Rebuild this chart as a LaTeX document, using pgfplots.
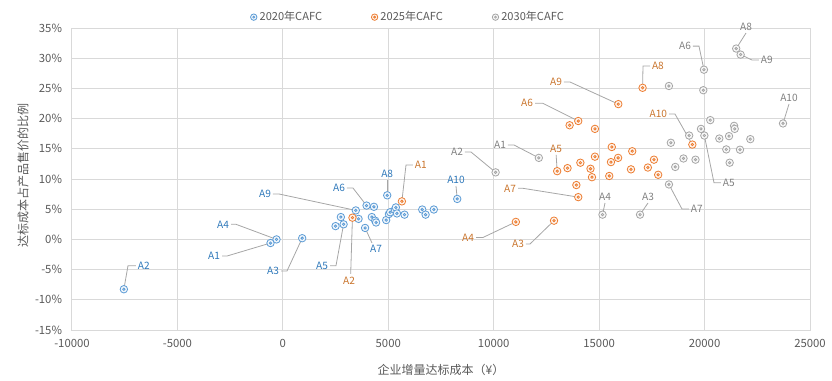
\documentclass[border=0pt]{standalone}
\usepackage{fontspec}
\setmainfont{Noto Sans CJK SC}
\usepackage{pgfplots}
\pgfplotsset{compat=1.18}
\definecolor{cb}{HTML}{5B9BD5}
\definecolor{cbt}{HTML}{2E78BA}
\definecolor{co}{HTML}{ED7D31}
\definecolor{cot}{HTML}{C9742C}
\definecolor{cg}{HTML}{A5A5A5}
\definecolor{cgt}{HTML}{7F7F7F}
\definecolor{gridc}{HTML}{D9D9D9}
\definecolor{tickc}{HTML}{595959}
\definecolor{ldc}{HTML}{A6A6A6}
\pgfdeclareplotmark{rd}{%
  \pgfpathcircle{\pgfpointorigin}{\pgfplotmarksize}\pgfusepathqfillstroke
  \pgfpathcircle{\pgfpointorigin}{0.32\pgfplotmarksize}\pgfusepathqstroke}
\tikzset{ld/.style={ldc, line width=0.6pt},
  lb/.style={font=\fontsize{7.6}{9}\selectfont, inner sep=1.2pt}}
\begin{document}
\begin{tikzpicture}
\begin{axis}[
  at={(0,0)}, anchor=south west,
  scale only axis, width=553.5pt, height=226.5pt,
  xmin=-10000, xmax=25000, ymin=-15, ymax=35,
  xtick={-10000,-5000,...,25000}, ytick={-15,-10,...,35},
  grid=major, major grid style={gridc, line width=0.75pt},
  axis line style={gridc, line width=0.75pt},
  major tick length=0pt,
  clip=false,
  tick label style={font=\fontsize{8.5}{10}\selectfont, text=tickc},
  /pgf/number format/assume math mode=true,
  /pgf/number format/1000 sep={},
  scaled x ticks=false,
  yticklabel={\pgfmathprintnumber{\tick}\%},
  xticklabel style={yshift=-3.5pt},
  yticklabel style={xshift=-4pt},
  xlabel={企业增量达标成本（¥）},
  ylabel={达标成本占产品售价的比例},
  label style={font=\fontsize{9}{11}\selectfont, text=tickc},
  xlabel style={at={(axis description cs:0.5,-0.1325)}, anchor=center},
  ylabel style={at={(axis description cs:-0.0664,0.513)}, anchor=center, rotate=0},
  legend columns=3,
  legend style={draw=none, fill=none, at={(axis description cs:0.456,1.036)}, anchor=center,
    font=\fontsize{8.3}{10}\selectfont, text=tickc,
    /tikz/every even column/.append style={column sep=35pt}},
  legend image post style={mark size=2.4pt},
  legend cell align=left,
]
% ---- leader lines and labels: 2020 (blue)
\draw[ld] (axis cs:-7540,-8.25) -- (axis cs:-7344,-4.35) -- (axis cs:-6965,-4.35) node[lb,anchor=west,text=cbt] {A2};
\draw[ld] (axis cs:-585,-0.6) -- (axis cs:-2649,-2.75) -- (axis cs:-2886,-2.75) node[lb,anchor=east,text=cbt] {A1};
\draw[ld] (axis cs:-300,0) -- (axis cs:-2222,2.5) -- (axis cs:-2459,2.5) node[lb,anchor=east,text=cbt] {A4};
\draw[ld] (axis cs:917,0.2) -- (axis cs:196,-5.23) -- (axis cs:-88,-5.23) node[lb,anchor=east,text=cbt] {A3};
\draw[ld] (axis cs:3460,4.8) -- (axis cs:-183,7.52) -- (axis cs:-468,7.52) node[lb,anchor=east,text=cbt] {A9};
\draw[ld] (axis cs:3970,5.6) -- (axis cs:3326,8.51) -- (axis cs:3042,8.51) node[lb,anchor=east,text=cbt] {A6};
\draw[ld] (axis cs:4950,7.3) -- (axis cs:4950,9.83) node[lb,anchor=south,text=cbt] {A8};
\draw[ld] (axis cs:8270,6.7) -- (axis cs:8211,8.84) node[lb,anchor=south,text=cbt] {A10};
\draw[ld] (axis cs:3900,1.9) -- (axis cs:4228,-0.6);
\node[lb,anchor=north,text=cbt] at (axis cs:4417,-0.7) {A7};
\draw[ld] (axis cs:2880,2.5) -- (axis cs:2520,-4.35) -- (axis cs:2236,-4.35) node[lb,anchor=east,text=cbt] {A5};
% ---- 2025 (orange)
\draw[ld] (axis cs:5645,6.3) -- (axis cs:5840,12.32) -- (axis cs:6172,12.32) node[lb,anchor=west,text=cot] {A1};
\draw[ld] (axis cs:3300,3.6) -- (axis cs:3217,-5.7);
\node[lb,anchor=north,text=cot] at (axis cs:3140,-5.9) {A2};
\draw[ld] (axis cs:12860,3.1) -- (axis cs:11721,-0.76) -- (axis cs:11531,-0.76) node[lb,anchor=east,text=cot] {A3};
\draw[ld] (axis cs:11050,2.9) -- (axis cs:9492,0.32) -- (axis cs:9160,0.32) node[lb,anchor=east,text=cot] {A4};
\draw[ld] (axis cs:13010,11.3) -- (axis cs:12960,14.0) node[lb,anchor=south,text=cot] {A5};
\draw[ld] (axis cs:14010,19.6) -- (axis cs:12337,22.53) -- (axis cs:11958,22.53) node[lb,anchor=east,text=cot] {A6};
\draw[ld] (axis cs:14010,7.0) -- (axis cs:11389,8.46) -- (axis cs:11152,8.46) node[lb,anchor=east,text=cot] {A7};
\draw[ld] (axis cs:17060,25.1) -- (axis cs:17080,28.71) -- (axis cs:17412,28.71) node[lb,anchor=west,text=cot] {A8};
\draw[ld] (axis cs:15910,22.4) -- (axis cs:13618,26.06) -- (axis cs:13333,26.06) node[lb,anchor=east,text=cot] {A9};
\draw[ld] (axis cs:19420,15.7) -- (axis cs:18597,20.76) -- (axis cs:18313,20.76) node[lb,anchor=east,text=cot] {A10};
% ---- 2030 (grey)
\draw[ld] (axis cs:12140,13.5) -- (axis cs:10962,15.63) -- (axis cs:10677,15.63) node[lb,anchor=east,text=cgt] {A1};
\draw[ld] (axis cs:10090,11.1) -- (axis cs:8923,14.47) -- (axis cs:8638,14.47) node[lb,anchor=east,text=cgt] {A2};
\draw[ld] (axis cs:16940,4.1) -- (axis cs:17317,6.03) node[lb,anchor=south,text=cgt] {A3};
\draw[ld] (axis cs:15160,4.1) -- (axis cs:15278,6.03) node[lb,anchor=south,text=cgt] {A4};
\draw[ld] (axis cs:19990,17.2) -- (axis cs:20447,9.39) -- (axis cs:20779,9.39) node[lb,anchor=west,text=cgt] {A5};
\draw[ld] (axis cs:19970,28.1) -- (axis cs:19735,32.0) -- (axis cs:19451,32.0) node[lb,anchor=east,text=cgt] {A6};
\draw[ld] (axis cs:18310,9.1) -- (axis cs:18929,5.03) -- (axis cs:19261,5.03) node[lb,anchor=west,text=cgt] {A7};
\draw[ld] (axis cs:21500,31.6) -- (axis cs:21965,34.17) node[lb,anchor=south,text=cgt] {A8};
\draw[ld] (axis cs:21710,30.6) -- (axis cs:22249,29.70) -- (axis cs:22581,29.70) node[lb,anchor=west,text=cgt] {A9};
\draw[ld] (axis cs:23720,19.2) -- (axis cs:24004,22.42) node[lb,anchor=south,text=cgt] {A10};
% ---- data
\addplot[only marks, mark=rd, mark size=2.8pt, draw=cb, fill=cb!8, line width=0.6pt] coordinates {
(-7540,-8.25) (-585,-0.6) (-300,0.0) (917,0.2) (2500,2.2) (2880,2.5) (2750,3.7)
(3460,4.8) (3590,3.4) (3970,5.6) (4320,5.4) (4220,3.7) (4380,3.1) (4420,2.8)
(3900,1.9) (4950,7.3) (4900,3.2) (5030,4.2) (5090,4.5) (5310,4.9) (5360,5.3)
(5410,4.3) (5770,4.1) (6610,4.95) (6770,4.1) (7160,4.95) (8270,6.7)
};
\addlegendentry{2020年CAFC}
\addplot[only marks, mark=rd, mark size=2.8pt, draw=co, fill=co!8, line width=0.6pt] coordinates {
(5645,6.3) (3300,3.6) (12860,3.1) (11050,2.9) (13010,11.3) (14010,19.6) (14010,7.0)
(17060,25.1) (15910,22.4) (19420,15.7) (13600,18.9) (14800,18.3) (15600,15.3)
(16570,14.6) (14800,13.7) (15900,13.5) (15560,12.8) (17600,13.2) (14110,12.7)
(13500,11.8) (14590,11.7) (14660,10.3) (15480,10.5) (16510,11.6) (17310,11.9)
(17800,10.7) (13920,9.0)
};
\addlegendentry{2025年CAFC}
\addplot[only marks, mark=rd, mark size=2.8pt, draw=cg, fill=cg!8, line width=0.6pt] coordinates {
(12140,13.5) (10090,11.1) (16940,4.1) (15160,4.1) (19990,17.2) (19970,28.1) (18310,9.1)
(21500,31.6) (21710,30.6) (23720,19.2) (18310,25.4) (19940,24.7) (18400,16.0)
(19000,13.4) (18610,12.0) (20270,19.75) (19830,18.3) (19270,17.2) (21400,18.8)
(21430,18.3) (21160,17.1) (20700,16.7) (22170,16.6) (21030,14.9) (21680,14.85)
(19570,13.2) (21190,12.7)
};
\addlegendentry{2030年CAFC}
\end{axis}
\pgfresetboundingbox
\path[use as bounding box] (-54pt,-37.5pt) rectangle (570pt,247.5pt);
\end{tikzpicture}
\end{document}
